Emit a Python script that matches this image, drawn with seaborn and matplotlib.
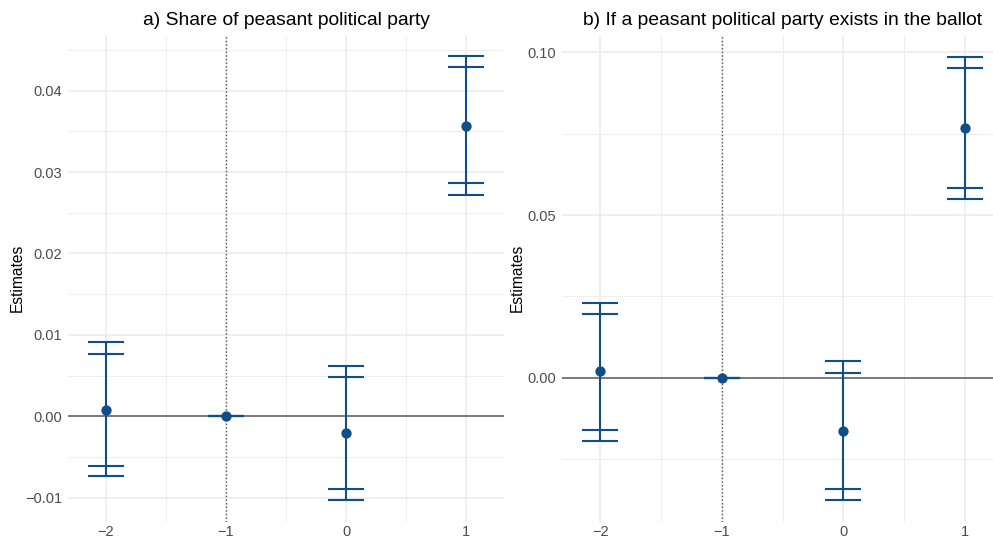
import numpy as np
import pandas as pd
import matplotlib
matplotlib.use("Agg")
import matplotlib.pyplot as plt
import seaborn as sns
from matplotlib.ticker import MultipleLocator, FuncFormatter

# ---------- data ----------
periods = [-2, -1, 0, 1]

share_est = [0.0008, 0.0, -0.0021, 0.0357]
share_lo90 = [-0.0061, 0.0, -0.0090, 0.0286]
share_hi90 = [0.0077, 0.0, 0.0048, 0.0429]
share_lo95 = [-0.0074, 0.0, -0.0103, 0.0272]
share_hi95 = [0.0091, 0.0, 0.0062, 0.0442]

ballot_est = [0.0020, 0.0, -0.0163, 0.0768]
ballot_lo90 = [-0.0160, 0.0, -0.0341, 0.0584]
ballot_hi90 = [0.0196, 0.0, 0.0015, 0.0951]
ballot_lo95 = [-0.0193, 0.0, -0.0374, 0.0548]
ballot_hi95 = [0.0230, 0.0, 0.0051, 0.0986]

titles = ["a) Share of peasant political party",
          "b) If a peasant political party exists in the ballot"]

BLUE = "#104E8B"
CAP = 0.15

sns.set_theme(style="whitegrid")
plt.rcParams['font.family'] = ['Liberation Sans', 'DejaVu Sans']

fig = plt.figure(figsize=(9.93, 5.39), dpi=100)
W, H = 993, 539
ax1 = fig.add_axes([68 / W, 17 / H, 436 / W, 487.5 / H])
ax2 = fig.add_axes([562 / W, 17 / H, 441 / W, 487.5 / H])


def build(est, lo90, hi90, lo95, hi95):
    return pd.DataFrame({"period": periods, "est": est, "lo90": lo90, "hi90": hi90,
                         "lo95": lo95, "hi95": hi95})


def draw(ax, df, title, ylim, major, minor, label_x):
    ax.set_facecolor("white")
    for s in ax.spines.values():
        s.set_visible(False)
    x = df["period"].to_numpy()
    # zero line and reference period
    ax.axhline(0, color="#595959", lw=1.1, zorder=1)
    ax.axvline(-1, color="#555555", lw=1.0, ls=(0, (1.0, 1.6)), zorder=1)
    # confidence intervals (95% and 90%)
    ax.vlines(x, df["lo95"], df["hi95"], color=BLUE, lw=1.5, zorder=3)
    for col in ["lo90", "hi90", "lo95", "hi95"]:
        ax.hlines(df[col], x - CAP, x + CAP, color=BLUE, lw=1.5, zorder=3)
    sns.scatterplot(data=df, x="period", y="est", ax=ax, color=BLUE, s=55,
                    edgecolor=BLUE, linewidth=0, zorder=4)

    ax.set_xlim(-2.315, 1.315)
    ax.set_ylim(*ylim)
    ax.set_xticks(periods)
    ax.xaxis.set_minor_locator(MultipleLocator(0.5))
    ax.yaxis.set_major_locator(MultipleLocator(major))
    ax.yaxis.set_minor_locator(MultipleLocator(minor))
    ax.yaxis.set_major_formatter(FuncFormatter(lambda v, p: f"{v:.2f}".replace("-", "\u2212")))
    ax.grid(which="major", color="#EBEBEB", lw=1.1)
    ax.grid(which="minor", color="#EBEBEB", lw=0.6)
    ax.set_axisbelow(True)
    ax.tick_params(axis="both", which="both", length=0, labelsize=10.5,
                   labelcolor="#4D4D4D")
    ax.tick_params(axis="y", pad=4)
    ax.tick_params(axis="x", pad=2)
    ax.set_xlabel("")
    ax.set_ylabel("Estimates", fontsize=11.2, color="black")
    ax.yaxis.set_label_coords(label_x, 0.5)
    ax.set_title(title, fontsize=13.9, color="black", pad=7)


draw(ax1, build(share_est, share_lo90, share_hi90, share_lo95, share_hi95),
     titles[0], (-0.0130, 0.0469), 0.01, 0.005, -0.0986)
draw(ax2, build(ballot_est, ballot_lo90, ballot_hi90, ballot_lo95, ballot_hi95),
     titles[1], (-0.0442, 0.1054), 0.05, 0.025, -0.084)

fig.savefig("out.png", dpi=100)
